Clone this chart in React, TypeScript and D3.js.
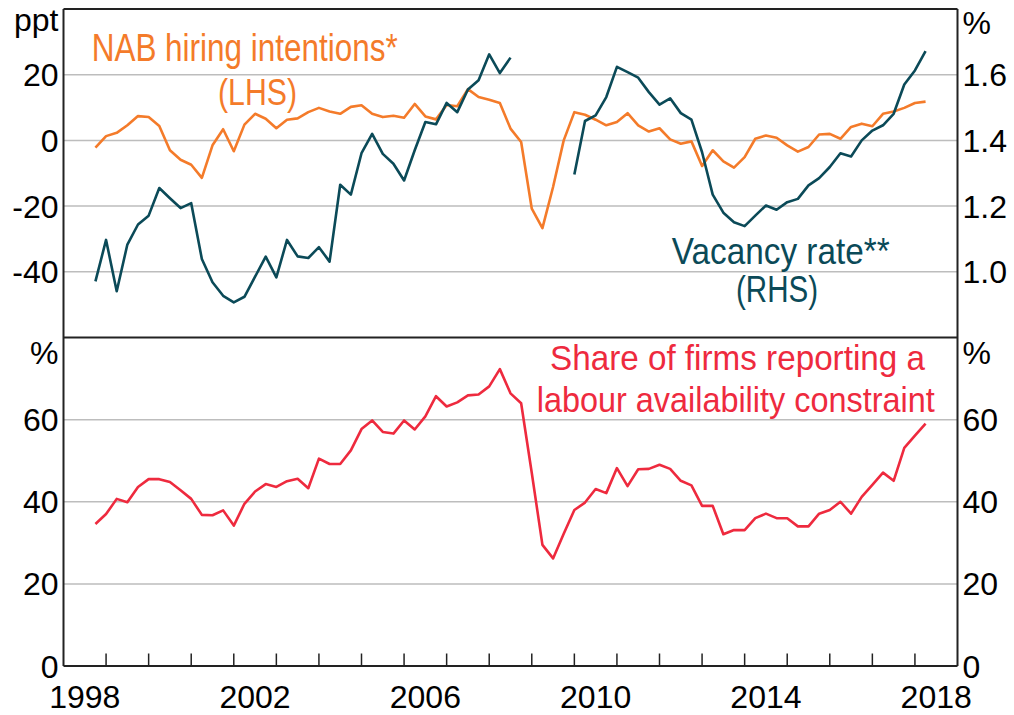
import React from "react";
import * as d3 from "d3";

// Quarterly observations, Sep-1998 to Mar-2018 (plotted at quarter end)
const startYear = 1998.75;
const nabHiring = [
  -2.2, 1.3, 2.3, 4.6, 7.4, 7.1, 4.4, -3.0, -5.9, -7.4, -11.4, -1.5, 3.4, -3.3, 4.8, 8.1,
  6.6, 3.7, 6.3, 6.7, 8.6, 9.9, 8.8, 8.1, 10.2, 10.7, 8.1, 7.1, 7.5, 6.9, 11.1, 7.3,
  6.4, 10.8, 10.4, 15.6, 13.2, 12.4, 11.4, 3.6, -0.5, -20.8, -26.7, -14.2, 0.0, 8.6, 7.8, 6.3,
  4.6, 5.6, 8.3, 4.6, 2.7, 3.7, 0.3, -1.0, -0.3, -7.8, -3.0, -6.4, -8.3, -5.1, 0.5, 1.5,
  0.8, -1.5, -3.4, -2.0, 1.8, 2.0, 0.5, 4.1, 5.1, 4.3, 8.1, 8.8, 9.9, 11.4, 11.8,
];
const vacancyRate: (number | null)[] = [
  0.971, 1.097, 0.941, 1.083, 1.144, 1.171, 1.255, 1.224, 1.194, 1.209, 1.039, 0.968, 0.927, 0.907, 0.924, 0.985,
  1.046, 0.983, 1.097, 1.047, 1.042, 1.075, 1.031, 1.265, 1.235, 1.361, 1.420, 1.359, 1.329, 1.278, 1.370, 1.456,
  1.449, 1.514, 1.486, 1.555, 1.583, 1.662, 1.605, 1.652, null, null, null, null, null, 1.296, 1.459, 1.476,
  1.532, 1.624, 1.608, 1.591, 1.547, 1.509, 1.528, 1.483, 1.463, 1.364, 1.235, 1.180, 1.151, 1.139, 1.171, 1.202,
  1.189, 1.212, 1.222, 1.263, 1.285, 1.319, 1.361, 1.351, 1.400, 1.430, 1.446, 1.481, 1.570, 1.613, 1.672,
];
const labourConstraint = [
  34.6, 37.0, 40.7, 39.9, 43.6, 45.5, 45.5, 44.8, 42.8, 40.7, 36.8, 36.7, 37.9, 34.2, 39.5, 42.5,
  44.3, 43.6, 45.0, 45.6, 43.3, 50.5, 49.2, 49.2, 52.5, 57.7, 59.8, 57.0, 56.6, 59.8, 57.6, 60.8,
  65.7, 63.2, 64.2, 65.9, 66.1, 68.1, 72.3, 66.4, 64.0, 47.0, 29.5, 26.2, 32.2, 38.0, 39.8, 43.1,
  42.1, 48.2, 43.8, 47.9, 48.0, 49.0, 48.0, 45.1, 44.0, 39.0, 39.0, 32.1, 33.1, 33.1, 36.0, 37.1,
  36.0, 36.0, 34.0, 34.0, 37.1, 38.0, 40.0, 37.1, 41.2, 44.1, 47.1, 45.1, 53.1, 56.1, 59.0,
];
const quarters = nabHiring.map((_, i) => startYear + i * 0.25);

const topLeftTicks = [20, 0, -20, -40];
const topRightTicks = [1.6, 1.4, 1.2, 1.0];
const bottomTicks = [60, 40, 20, 0];
const yearLabels = [1998, 2002, 2006, 2010, 2014, 2018];
const yearTicks = d3.range(1999, 2019);

const W = 1014, H = 715;
const L = 63.5, R = 957.5, T = 9, MID = 337.5, B = 666;
const ORANGE = "#F47B2A", TEAL = "#0B4A58", RED = "#EE2A3E";
const FONT = "'Liberation Sans', Arial, sans-serif";

export default function App() {
  const x = d3.scaleLinear().domain([1998, 2019]).range([L, R]);
  const yL = d3.scaleLinear().domain([-60, 40]).range([MID, T]);
  const yR = d3.scaleLinear().domain([0.8, 1.8]).range([MID, T]);
  const yB = d3.scaleLinear().domain([0, 80]).range([B, MID]);

  const lineNab = d3.line<number>().x((_, i) => x(quarters[i])).y((d) => yL(d));
  const lineVac = d3
    .line<number | null>()
    .defined((d) => d != null)
    .x((_, i) => x(quarters[i]))
    .y((d) => yR(d as number));
  const lineLab = d3.line<number>().x((_, i) => x(quarters[i])).y((d) => yB(d));

  const tick = { fontFamily: FONT, fontSize: 32, fill: "#000" } as const;

  return (
    <div style={{ position: "fixed", left: 0, top: 0 }}>
      <svg width={W} height={H} style={{ display: "block", background: "#fff" }}>
        {/* grid lines */}
        {topLeftTicks.map((t) => (
          <line key={"gt" + t} x1={L} x2={R} y1={yL(t)} y2={yL(t)} stroke="#BDBDBD" strokeWidth={1.5} />
        ))}
        {bottomTicks.filter((t) => t !== 0).map((t) => (
          <line key={"gb" + t} x1={L} x2={R} y1={yB(t)} y2={yB(t)} stroke="#BDBDBD" strokeWidth={1.5} />
        ))}

        {/* series */}
        <path d={lineNab(nabHiring) || ""} fill="none" stroke={ORANGE} strokeWidth={2.6} strokeLinejoin="round" />
        <path d={lineVac(vacancyRate) || ""} fill="none" stroke={TEAL} strokeWidth={2.6} strokeLinejoin="round" />
        <path d={lineLab(labourConstraint) || ""} fill="none" stroke={RED} strokeWidth={2.6} strokeLinejoin="round" />

        {/* frame */}
        <line x1={L} x2={R} y1={T} y2={T} stroke="#222" strokeWidth={2} />
        <line x1={L} x2={R} y1={MID} y2={MID} stroke="#222" strokeWidth={2} />
        <line x1={L} x2={R} y1={B} y2={B} stroke="#222" strokeWidth={2} />
        <line x1={L} x2={L} y1={T} y2={B} stroke="#222" strokeWidth={2} />
        <line x1={R} x2={R} y1={T} y2={B} stroke="#222" strokeWidth={2} />
        {yearTicks.map((yr) => (
          <line key={"xt" + yr} x1={x(yr)} x2={x(yr)} y1={B} y2={B - 12.5} stroke="#222" strokeWidth={1.5} />
        ))}

        {/* axis labels */}
        <text x={L - 5} y={31} textAnchor="end" {...tick}>ppt</text>
        <text x={R + 5} y={34} textAnchor="start" {...tick}>%</text>
        <text x={L - 5} y={364} textAnchor="end" {...tick}>%</text>
        <text x={R + 5} y={364} textAnchor="start" {...tick}>%</text>
        {topLeftTicks.map((t) => (
          <text key={"tl" + t} x={L - 5} y={yL(t) + 11.5} textAnchor="end" {...tick}>{t}</text>
        ))}
        {topRightTicks.map((t) => (
          <text key={"tr" + t} x={R + 5} y={yR(t) + 11.5} textAnchor="start" {...tick}>{t.toFixed(1)}</text>
        ))}
        {bottomTicks.map((t) => (
          <g key={"b" + t}>
            <text x={L - 5} y={yB(t) + 11.5} textAnchor="end" {...tick}>{t}</text>
            <text x={R + 5} y={yB(t) + 11.5} textAnchor="start" {...tick}>{t}</text>
          </g>
        ))}
        {yearLabels.map((yr) => (
          <text key={"yl" + yr} x={x(yr + 0.5)} y={708} textAnchor="middle" {...tick}>{yr}</text>
        ))}

        {/* annotations */}
        <g fontFamily={FONT}>
          <text x={91.7} y={61} fontSize={38} fill={ORANGE} textLength={306} lengthAdjust="spacingAndGlyphs">NAB hiring intentions*</text>
          <text x={218} y={105} fontSize={36} fill={ORANGE} textLength={79} lengthAdjust="spacingAndGlyphs">(LHS)</text>
          <text x={671.7} y={264} fontSize={37} fill={TEAL} textLength={218} lengthAdjust="spacingAndGlyphs">Vacancy rate**</text>
          <text x={736} y={302} fontSize={36} fill={TEAL} textLength={82} lengthAdjust="spacingAndGlyphs">(RHS)</text>
          <text x={550} y={370} fontSize={35} fill={RED} textLength={375} lengthAdjust="spacingAndGlyphs">Share of firms reporting a</text>
          <text x={536.7} y={411.5} fontSize={35} fill={RED} textLength={398} lengthAdjust="spacingAndGlyphs">labour availability constraint</text>
        </g>
      </svg>
    </div>
  );
}
